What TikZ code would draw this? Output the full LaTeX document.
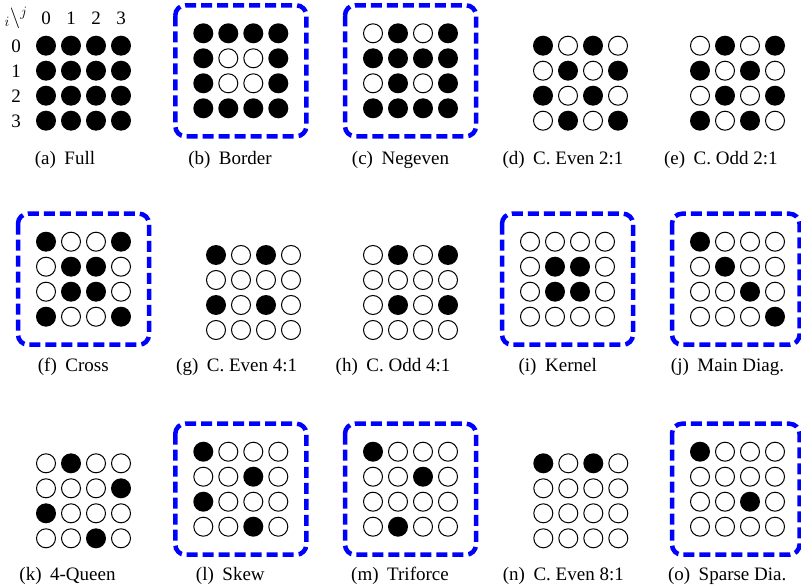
\documentclass[tikz,border=0pt]{standalone}
\usepackage{fontspec}
\setmainfont{Liberation Serif}
\definecolor{selblue}{RGB}{0,0,255}
\tikzset{
  fdot/.style={circle, fill=black, minimum size=20bp, inner sep=0pt, outer sep=0pt},
  odot/.style={circle, draw=black, line width=1bp, minimum size=19bp, inner sep=0pt},
  selbox/.style={draw=selblue, line width=4.5bp, rounded corners=10bp, dash pattern=on 11bp off 5bp},
  captext/.style={anchor=base, inner sep=0pt, font=\fontsize{19bp}{22bp}\selectfont},
  idxlbl/.style={inner sep=0pt, font=\fontsize{19bp}{22bp}\selectfont}
}
\newcommand{\dotgrid}[4]{%
  \foreach \rowlist [count=\ri from 0] in {#4} {%
    \foreach \v [count=\ci from 0] in \rowlist {%
      \ifnum\v=1
        \node[fdot] (#1-\ri-\ci) at ({#2+25*\ci},{#3+25*\ri}) {};
      \else
        \node[odot] (#1-\ri-\ci) at ({#2+25*\ci},{#3+25*\ri}) {};
      \fi
    }%
  }%
}
\newcommand{\selframe}[4]{\draw[selbox] (#1,#2) rectangle (#3,#4);}
\newcommand{\subcap}[5]{\node[captext] (#1) at (#2,#3) {(#4)\hspace{0.45em}#5};}
\begin{document}
\begin{tikzpicture}[x=1bp,y=-1bp]
\useasboundingbox (0,0) rectangle (801,587);

% ---------- row 1 ----------
% (a) Full
\node[idxlbl] (ij) at (16,18) {$_i\backslash^j$};
\foreach \k in {0,1,2,3} {
  \node[idxlbl] (col\k) at ({46+25*\k},18) {\k};
  \node[idxlbl] (row\k) at (16,{46+25*\k}) {\k};
}
\dotgrid{a}{46}{45.7}{{1,1,1,1},{1,1,1,1},{1,1,1,1},{1,1,1,1}}
\subcap{capa}{65}{165}{a}{Full}
% (b) Border
\selframe{175.3}{5.3}{306.3}{136.3}
\dotgrid{b}{203.3}{33.3}{{1,1,1,1},{1,0,0,1},{1,0,0,1},{1,1,1,1}}
\subcap{capb}{230}{165}{b}{Border}
% (c) Negeven
\selframe{345}{5.3}{476}{136.3}
\dotgrid{c}{373}{33.3}{{0,1,0,1},{1,1,1,1},{0,1,0,1},{1,1,1,1}}
\subcap{capc}{400.5}{165}{c}{Negeven}
% (d) C. Even 2:1
\dotgrid{d}{543}{45.7}{{1,0,1,0},{0,1,0,1},{1,0,1,0},{0,1,0,1}}
\subcap{capd}{563}{165}{d}{C. Even 2:1}
% (e) C. Odd 2:1
\dotgrid{e}{700}{45.7}{{0,1,0,1},{1,0,1,0},{0,1,0,1},{1,0,1,0}}
\subcap{cape}{720.8}{165}{e}{C. Odd 2:1}

% ---------- row 2 ----------
% (f) Cross
\selframe{18}{213.7}{149}{344.7}
\dotgrid{f}{46}{241.7}{{1,0,0,1},{0,1,1,0},{0,1,1,0},{1,0,0,1}}
\subcap{capf}{73.3}{371.7}{f}{Cross}
% (g) C. Even 4:1
\dotgrid{g}{216}{255}{{1,0,1,0},{0,0,0,0},{1,0,1,0},{0,0,0,0}}
\subcap{capg}{236.7}{371.7}{g}{C. Even 4:1}
% (h) C. Odd 4:1
\dotgrid{h}{373}{255}{{0,1,0,1},{0,0,0,0},{0,1,0,1},{0,0,0,0}}
\subcap{caph}{393}{371.7}{h}{C. Odd 4:1}
% (i) Kernel
\selframe{502}{213.7}{633}{344.7}
\dotgrid{i}{530}{241.7}{{0,0,0,0},{0,1,1,0},{0,1,1,0},{0,0,0,0}}
\subcap{capi}{557.7}{371.7}{i}{Kernel}
% (j) Main Diag.
\selframe{672}{213.7}{799.5}{344.7}
\dotgrid{j}{700}{241.7}{{1,0,0,0},{0,1,0,0},{0,0,1,0},{0,0,0,1}}
\subcap{capj}{727.5}{371.7}{j}{Main Diag.}

% ---------- row 3 ----------
% (k) 4-Queen
\dotgrid{k}{46}{463.3}{{0,1,0,0},{0,0,0,1},{1,0,0,0},{0,0,1,0}}
\subcap{capk}{67.5}{580}{k}{4-Queen}
% (l) Skew
\selframe{175.3}{423.7}{306.3}{554.7}
\dotgrid{l}{203.3}{451.7}{{1,0,0,0},{0,0,1,0},{1,0,0,0},{0,0,1,0}}
\subcap{capl}{230.3}{580}{l}{Skew}
% (m) Triforce
\selframe{345}{423.7}{476}{554.7}
\dotgrid{m}{373}{451.7}{{1,0,0,0},{0,0,1,0},{0,0,0,0},{0,1,0,0}}
\subcap{capm}{400}{580}{m}{Triforce}
% (n) C. Even 8:1
\dotgrid{n}{543.3}{463.3}{{1,0,1,0},{0,0,0,0},{0,0,0,0},{0,0,0,0}}
\subcap{capn}{563.3}{580}{n}{C. Even 8:1}
% (o) Sparse Dia.
\selframe{672}{423.7}{799.5}{554.7}
\dotgrid{o}{700}{451.7}{{1,0,0,0},{0,0,0,0},{0,0,1,0},{0,0,0,0}}
\subcap{capo}{727.2}{580}{o}{Sparse Dia.}
\end{tikzpicture}
\end{document}
